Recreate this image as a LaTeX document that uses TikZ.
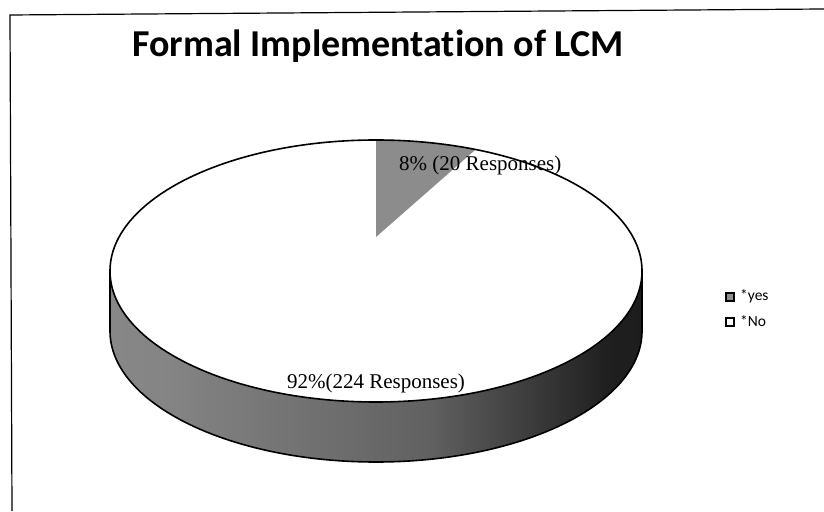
\documentclass[tikz,border=0pt]{standalone}
\usepackage{fontspec}
\setmainfont{Liberation Serif}
\newfontfamily\calibrifont[Ligatures=NoCommon]{Carlito}
\pgfdeclarehorizontalshading{sideshade}{100bp}{color(0bp)=(black!42); color(30bp)=(black!48); color(55bp)=(black!62); color(72bp)=(black!88); color(100bp)=(black!93)}
\begin{document}
\begin{tikzpicture}[x=1pt,y=1pt,
  frameline/.style={draw=black,line width=1.2pt},
  rim/.style={draw=black,line width=1.6pt},
  wedgefill/.style={fill=black!45},
  titletext/.style={font=\calibrifont\bfseries\fontsize{38}{44}\selectfont},
  pielabel/.style={font=\fontsize{21}{25}\selectfont,inner sep=0pt},
  legbox/.style={draw=black,line width=1.4pt,minimum size=8pt,inner sep=0pt},
  legtext/.style={font=\calibrifont\fontsize{15.5}{18}\selectfont,inner sep=0pt}]
\useasboundingbox (0,0) rectangle (824,511);
\fill[white] (0,0) rectangle (824,511);
% frame
\coordinate (fbl) at (12,0);
\coordinate (ftl) at (10,496);
\coordinate (ftr) at (824,502);
\draw[frameline] (fbl) -- (ftl) -- (ftr);
% title
\node[titletext] (title) at (378,465) {Formal Implementation of LCM};
% pie side
\coordinate (ctop) at (376,240);
\path[shading=sideshade] (110,240) -- (110,180)
  arc[start angle=180,end angle=360,x radius=266,y radius=131] -- (642,240)
  arc[start angle=0,end angle=-180,x radius=266,y radius=131] -- cycle;
\draw[rim] (110,240) -- (110,180)
  arc[start angle=180,end angle=360,x radius=266,y radius=131] -- (642,240);
% pie top
\fill[white] (ctop) ellipse[x radius=266,y radius=131];
\coordinate (vtx) at (376,274);
\fill[wedgefill] (vtx) -- (376,371)
  arc[start angle=90,end angle=68,x radius=266,y radius=131] -- cycle;
\draw[rim] (ctop) ellipse[x radius=266,y radius=131];
% labels
\node[pielabel,anchor=west] (yeslabel) at (399,346) {8\% (20 Responses)};
\node[pielabel] (nolabel) at (376,128) {92\%(224 Responses)};
% legend
\node[legbox,fill=black!45] (yesbox) at (730,214) {};
\node[legtext,anchor=west] (yestext) at (740,215) {*yes};
\node[legbox,fill=white] (nobox) at (730,189) {};
\node[legtext,anchor=west] (notext) at (740,190) {*No};
\end{tikzpicture}
\end{document}
